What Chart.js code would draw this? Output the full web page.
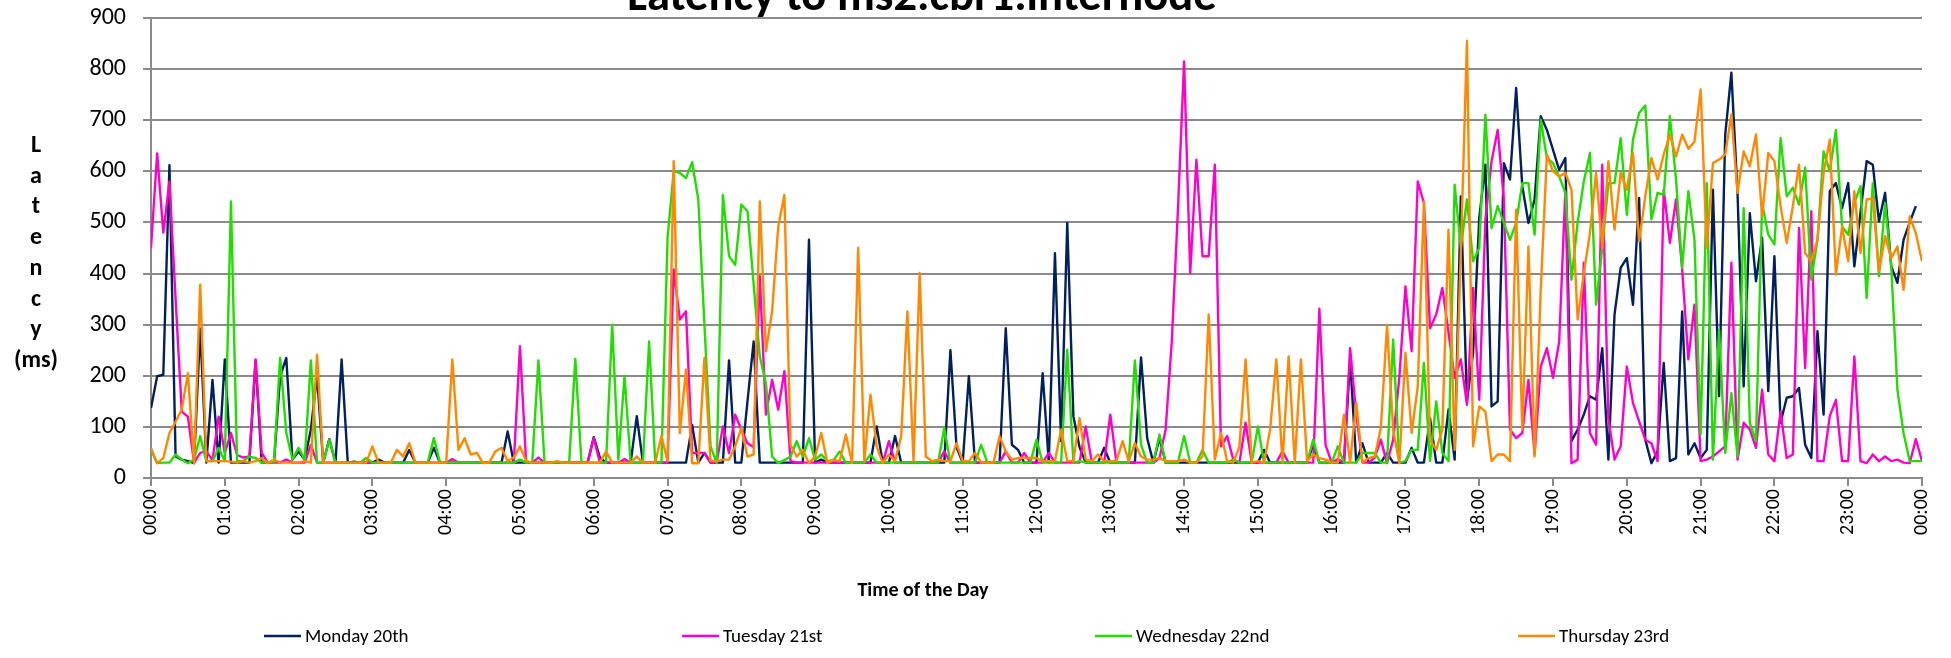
<!DOCTYPE html>
<html><head><meta charset="utf-8">
<script src="https://cdn.jsdelivr.net/npm/chart.js@4.4.1/dist/chart.umd.min.js"></script>
<style>html,body{margin:0;padding:0;background:#fff;overflow:hidden}#wrap{width:1951px;height:658px;position:relative}</style>
</head><body><div id="wrap"><canvas id="c" width="1951" height="658"></canvas></div>
<script>
const chartTitle = 'Latency to ms2.cbr1.internode';
const xAxisTitle = 'Time of the Day';
const yAxisTitleLines = ['L','a','t','e','n','c','y','(ms)'];
const hourLabels = ['00:00','01:00','02:00','03:00','04:00','05:00','06:00','07:00','08:00','09:00','10:00','11:00','12:00','13:00','14:00','15:00','16:00','17:00','18:00','19:00','20:00','21:00','22:00','23:00','00:00'];
const yTicks = [0,100,200,300,400,500,600,700,800,900];
const seriesNames = ['Monday 20th','Tuesday 21st','Wednesday 22nd','Thursday 23rd'];
const seriesColors = ['#002060','#FF00CC','#22DD00','#FF8800'];

// one value every 5 minutes, 00:00 .. 24:00 (one row per hour)
const monday = [
137,199,202,612,42,36,33,29,292,30,192,30,
232,30,30,30,30,230,30,30,30,199,235,36,
52,36,95,200,30,76,30,232,30,32,30,30,
30,36,30,30,30,30,55,30,30,30,59,30,
30,30,30,30,30,30,30,30,30,30,91,30,
30,30,30,30,30,30,30,30,30,30,30,30,
80,40,30,30,30,30,30,121,30,30,30,30,
30,30,30,30,104,30,49,30,30,30,230,30,
30,150,267,30,30,30,30,30,30,30,30,466,
30,36,30,30,30,30,30,30,30,30,101,30,
30,82,30,30,30,30,30,30,30,30,250,60,
30,199,30,30,30,30,30,293,65,55,30,30,
30,205,30,440,72,499,121,60,30,30,30,59,
30,30,30,30,30,236,78,30,78,30,30,30,
30,30,30,30,30,30,30,30,30,30,30,30,
30,55,30,30,30,30,30,30,30,65,30,30,
30,30,30,232,30,68,30,30,30,49,30,30,
30,59,30,30,117,30,30,134,36,551,150,245,
509,613,140,150,616,584,763,571,499,545,708,681,
642,603,626,72,95,124,160,153,254,36,320,411,
430,339,548,75,29,52,225,33,39,326,46,68,
39,55,564,160,672,793,558,179,518,385,470,170,
434,108,157,160,176,65,39,287,124,561,577,528,
577,414,520,620,613,502,558,414,382,466,500,532,
null];
const tuesday = [
450,635,480,580,350,130,120,30,49,52,35,120,
49,88,45,40,42,232,49,30,30,30,36,30,
30,30,65,30,30,30,30,30,30,30,30,30,
30,30,30,30,30,30,30,30,30,30,30,30,
30,37,30,30,30,30,30,30,30,30,30,30,
258,30,30,40,30,30,30,30,30,30,30,30,
78,30,30,30,30,37,30,30,30,30,30,30,
30,408,310,326,49,49,49,30,30,101,49,124,
95,68,60,395,124,192,134,209,33,30,30,30,
30,30,30,30,30,30,30,30,30,30,30,30,
72,30,30,30,30,30,30,30,30,52,30,30,
30,30,30,30,30,30,30,52,30,30,49,30,
30,30,49,30,30,30,30,30,101,30,30,30,
124,30,30,30,30,30,30,30,39,95,267,525,
815,401,623,434,434,613,62,82,36,30,108,30,
30,30,30,30,52,30,30,30,30,30,331,65,
30,37,30,254,124,30,30,40,75,29,75,196,
375,248,580,538,293,320,372,285,196,232,143,372,
153,505,620,681,545,95,78,88,192,46,218,254,
196,267,561,29,36,421,88,65,613,117,36,62,
218,147,111,75,68,33,564,460,545,408,232,339,
33,36,42,52,62,421,36,108,95,59,173,46,
33,130,39,46,489,215,522,33,33,121,153,33,
33,238,33,29,46,33,42,33,36,30,29,76,
33];
const wednesday = [
55,29,30,30,46,36,29,36,82,33,33,59,
33,541,33,33,42,39,30,30,30,235,88,36,
59,36,230,30,30,75,30,30,30,30,30,39,
30,30,30,30,30,30,30,30,30,30,78,30,
30,30,30,30,30,30,30,30,30,30,30,30,
36,30,30,230,30,30,30,30,30,233,30,30,
30,30,30,300,36,199,30,30,30,267,30,30,
470,600,597,587,618,545,300,62,29,554,434,417,
535,522,380,238,186,42,29,35,42,72,42,78,
36,46,33,35,52,29,30,30,30,46,30,30,
30,30,30,30,30,30,30,30,30,98,30,30,
30,30,30,65,30,30,30,30,30,30,30,30,
75,30,30,30,30,251,30,33,30,30,30,30,
30,30,30,30,230,65,30,30,85,30,30,30,
82,30,30,55,30,30,30,30,36,30,30,30,
101,30,30,30,30,30,30,30,30,75,30,30,
30,62,30,30,30,49,49,49,30,30,271,30,
33,55,55,225,33,150,49,33,574,450,545,424,
450,711,489,532,499,466,499,577,577,476,701,626,
616,590,558,388,500,580,636,339,450,577,577,665,
515,662,714,729,506,558,554,708,584,411,561,466,
85,577,36,290,49,166,42,528,108,72,538,476,
457,665,551,568,535,607,388,466,639,600,681,492,
476,538,571,352,577,395,538,414,173,88,33,33,
33];
const thursday = [
59,29,39,88,110,134,205,29,378,33,33,33,
33,32,30,33,30,33,39,29,36,30,30,30,
30,33,30,241,30,30,30,30,30,30,30,30,
62,30,30,30,55,42,68,30,30,30,30,30,
30,232,55,78,46,49,29,30,52,59,33,40,
62,33,30,30,30,30,33,30,30,30,30,30,
30,30,52,30,30,30,30,42,30,30,30,82,
33,620,88,212,29,29,235,33,33,36,36,62,
98,42,46,541,248,326,492,554,65,42,55,29,
42,88,29,36,33,85,29,450,33,163,62,29,
46,33,82,326,33,401,42,33,36,33,33,68,
33,33,49,30,30,30,82,52,36,39,39,39,
39,33,33,33,95,33,33,117,36,33,46,33,
33,33,72,33,68,42,36,36,39,33,33,33,
36,30,30,42,320,36,88,33,30,62,232,30,
33,30,95,232,30,238,30,232,33,46,39,36,
30,30,124,30,147,30,39,42,98,298,95,29,
245,88,179,541,75,55,95,486,55,440,855,62,
140,130,33,46,46,33,525,95,453,42,368,633,
600,590,597,564,310,400,479,597,450,620,486,597,
564,636,463,551,626,584,633,672,629,672,644,658,
760,450,616,623,633,711,558,639,610,672,512,636,
620,532,460,532,613,440,424,466,597,662,398,492,
424,561,440,545,547,404,473,430,453,368,512,479,
424];
const seriesValues = [monday, tuesday, wednesday, thursday];

const STEP_MIN = 5;
const FONT = 'Carlito, Lato, "Open Sans", sans-serif';
const GRID = '#8a8a8a';

const datasets = seriesValues.map((vals, k) => ({
  label: seriesNames[k],
  data: vals.map((v, i) => ({x: i * STEP_MIN, y: v})),
  borderColor: seriesColors[k],
  backgroundColor: seriesColors[k],
  borderWidth: 2.4,
  pointRadius: 0,
  tension: 0,
  fill: false,
  spanGaps: false,
  borderJoinStyle: 'round',
  order: seriesValues.length - k
}));

const decor = {
  id: 'decor',
  afterDraw(chart) {
    const ctx = chart.ctx;
    ctx.save();
    ctx.fillStyle = '#000';
    let size = 40;
    ctx.font = 'bold ' + size + 'px ' + FONT;
    const w = ctx.measureText(chartTitle).width;
    size = size * 590 / w;
    ctx.font = 'bold ' + size.toFixed(1) + 'px ' + FONT;
    ctx.textAlign = 'center';
    ctx.textBaseline = 'alphabetic';
    ctx.fillText(chartTitle, 922, 10);
    ctx.font = 'bold 24px ' + FONT;
    yAxisTitleLines.forEach((t, i) => ctx.fillText(t, 36, 152 + i * 30.7));
    ctx.font = 'bold 20px ' + FONT;
    ctx.fillText(xAxisTitle, 923, 596);
    const lx = [264, 682, 1095, 1518];
    ctx.font = '19px ' + FONT;
    ctx.textAlign = 'left';
    ctx.textBaseline = 'middle';
    chart.data.datasets.forEach((ds, i) => {
      ctx.strokeStyle = ds.borderColor;
      ctx.lineWidth = 2.4;
      ctx.beginPath();
      ctx.moveTo(lx[i], 636);
      ctx.lineTo(lx[i] + 37, 636);
      ctx.stroke();
      ctx.fillText(ds.label, lx[i] + 41, 637);
    });
    ctx.restore();
  }
};

new Chart(document.getElementById('c'), {
  type: 'line',
  data: {datasets},
  plugins: [decor],
  options: {
    responsive: false,
    animation: false,
    devicePixelRatio: 1,
    layout: {padding: {top: 18, right: 29, bottom: 0, left: 0}},
    plugins: {legend: {display: false}, title: {display: false}, tooltip: {enabled: false}},
    scales: {
      x: {
        type: 'linear', min: 0, max: 24 * 60,
        afterFit(s) { s.height = 180; s.paddingLeft = 0; s.paddingRight = 0; },
        grid: {drawOnChartArea: false, drawTicks: true, tickLength: 8, color: GRID, lineWidth: 2},
        border: {display: true, color: GRID, width: 2},
        ticks: {
          stepSize: 60, autoSkip: false, maxRotation: 90, minRotation: 90, padding: 3,
          color: '#000', font: {family: FONT, size: 20},
          callback: (v) => hourLabels[Math.round(v / 60)]
        }
      },
      y: {
        min: 0, max: 900,
        afterFit(s) { s.width = 151; s.paddingTop = 0; s.paddingBottom = 0; },
        afterBuildTicks(s) { s.ticks = yTicks.map(v => ({value: v})); },
        grid: {color: GRID, lineWidth: 2, tickLength: 8, drawTicks: true},
        border: {display: true, color: GRID, width: 2},
        ticks: {padding: 17, color: '#000', font: {family: FONT, size: 24}}
      }
    }
  }
});
</script></body></html>
